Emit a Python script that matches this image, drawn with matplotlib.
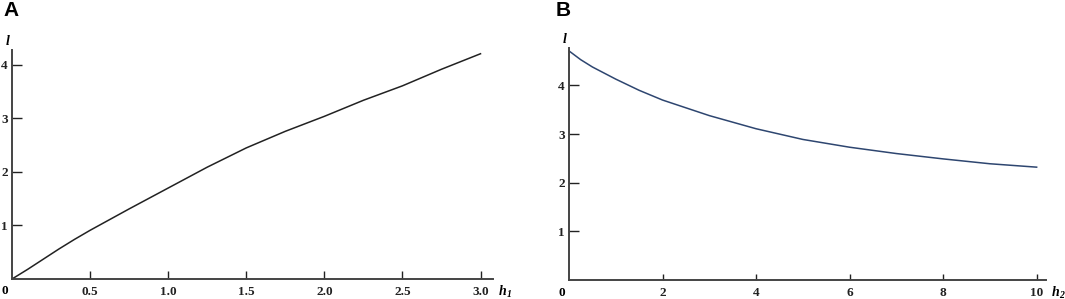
import matplotlib
matplotlib.use("Agg")
import matplotlib.pyplot as plt

# panel A: l against h1
h1 = [0.0, 0.1, 0.2, 0.3, 0.4, 0.5, 0.75, 1.0, 1.25, 1.5, 1.75, 2.0, 2.25, 2.5, 2.75, 3.0]
l_a = [0.0, 0.18, 0.37, 0.56, 0.74, 0.91, 1.31, 1.70, 2.09, 2.45, 2.76, 3.04, 3.34, 3.61, 3.92, 4.21]

# panel B: l against h2
h2 = [0.0, 0.25, 0.5, 1.0, 1.5, 2.0, 3.0, 4.0, 5.0, 6.0, 7.0, 8.0, 9.0, 10.0]
l_b = [4.71, 4.53, 4.38, 4.13, 3.90, 3.70, 3.38, 3.11, 2.89, 2.73, 2.60, 2.49, 2.39, 2.32]

xticks_a = [0.5, 1.0, 1.5, 2.0, 2.5, 3.0]
xticks_b = [2, 4, 6, 8, 10]
yticks = [1, 2, 3, 4]

W, H = 1065, 299
fig = plt.figure(figsize=(W / 100, H / 100), dpi=100)
serif = dict(family='Liberation Serif', weight='bold')


def frame(ax, xmax, ymax, xticks, xfmt, sub, xtick_len):
    ax.set_xlim(0, xmax)
    ax.set_ylim(0, ymax)
    for s in ['top', 'right']:
        ax.spines[s].set_visible(False)
    for s in ['left', 'bottom']:
        ax.spines[s].set_linewidth(1.4)
        ax.spines[s].set_color('#444444')
    ax.set_xticks(xticks)
    ax.set_xticklabels([xfmt.format(v) for v in xticks])
    ax.set_yticks(yticks)
    ax.set_yticklabels([str(v) for v in yticks])
    ax.tick_params(axis='x', direction='in', length=xtick_len, width=1.0, pad=5,
                   colors='#222222')
    ax.tick_params(axis='y', direction='in', length=7, width=1.0, pad=3,
                   colors='#222222')
    for lab in ax.get_xticklabels() + ax.get_yticklabels():
        lab.set_fontfamily('Liberation Serif')
        lab.set_fontweight('bold')
        lab.set_fontsize(9.5)
    ax.annotate('0', xy=(0, 0), xycoords='axes fraction', xytext=(-5, -9),
                textcoords='offset points', ha='center', va='center',
                fontsize=9.5, **serif)
    ax.annotate('l', xy=(0, 1), xycoords='axes fraction', xytext=(-3, 6),
                textcoords='offset points', ha='center', va='center',
                fontsize=10, style='italic', **serif)
    ax.annotate('h', xy=(1, 0), xycoords='axes fraction', xytext=(7, -9),
                textcoords='offset points', ha='center', va='center',
                fontsize=10, style='italic', **serif)
    ax.annotate(sub, xy=(1, 0), xycoords='axes fraction', xytext=(11.5, -11),
                textcoords='offset points', ha='center', va='center',
                fontsize=7, style='italic', **serif)


ax1 = fig.add_axes([12 / W, 20 / H, (493 - 12) / W, (279 - 50) / H])
ax1.plot(h1, l_a, color='#222222', lw=1.1)
frame(ax1, 3.08, 4.28, xticks_a, '{:.1f}', '1', 6)

ax2 = fig.add_axes([569 / W, 19 / H, (1046 - 569) / W, (280 - 48) / H])
ax2.plot(h2, l_b, color='#2e4670', lw=1.1)
frame(ax2, 10.2, 4.77, xticks_b, '{:d}', '2', 4)

fig.text(3 / W, 1 - 11 / H, 'A', family='Liberation Sans', weight='bold',
         fontsize=15, va='center', ha='left')
fig.text(556 / W, 1 - 11 / H, 'B', family='Liberation Sans', weight='bold',
         fontsize=15, va='center', ha='left')

fig.savefig('out.png', dpi=100)
